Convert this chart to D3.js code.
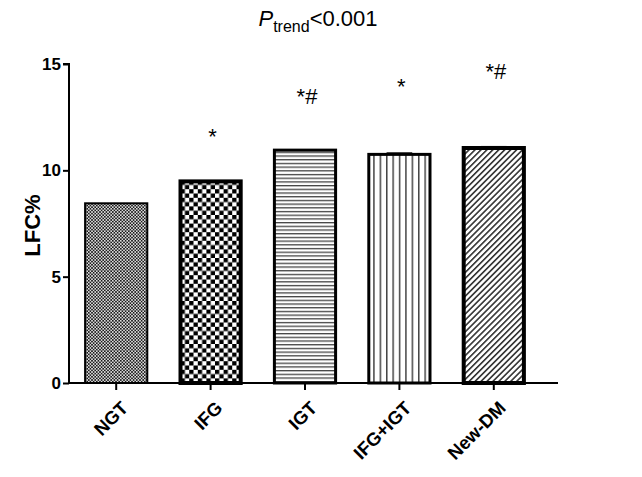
<!DOCTYPE html>
<html>
<head>
<meta charset="utf-8">
<script src="https://cdn.jsdelivr.net/npm/d3@7"></script>
<style>
  body { margin: 0; background: #fff; }
  svg { display: block; font-family: "Liberation Sans", Arial, sans-serif; }
</style>
</head>
<body>
<svg id="chart" width="642" height="477"></svg>
<script>
// data
var groups = ["NGT", "IFG", "IGT", "IFG+IGT", "New-DM"];
var lfc = [8.45, 9.48, 10.95, 10.75, 11.05];
var sem = [0.0, 0.0, 0.0, 0.05, 0.05];
var marks = ["", "*", "*#", "*", "*#"];
var markLevel = [0, 11.25, 13.1, 13.6, 14.3];
var yTicks = [0, 5, 10, 15];
var patterns = ["dots", "checker", "hlines", "vlines", "diag"];
var borderW = [2, 4, 3, 3, 4];

var svg = d3.select("#chart");
var X0 = 69, BAND = 94.4, Y0 = 383, YTOP = 64;

var x = d3.scaleBand()
    .domain(groups)
    .range([X0, X0 + BAND * groups.length])
    .paddingInner(0.32)
    .paddingOuter(0.16);

var y = d3.scaleLinear()
    .domain([0, 15])
    .range([Y0, YTOP]);

// fill patterns
var defs = svg.append("defs");

var p = defs.append("pattern").attr("id", "dots")
    .attr("patternUnits", "userSpaceOnUse").attr("width", 3.2).attr("height", 3.2);
p.append("rect").attr("width", 3.2).attr("height", 3.2).attr("fill", "#ddd");
p.append("rect").attr("width", 1.6).attr("height", 1.6).attr("fill", "#1a1a1a");
p.append("rect").attr("x", 1.6).attr("y", 1.6).attr("width", 1.6).attr("height", 1.6).attr("fill", "#1a1a1a");

p = defs.append("pattern").attr("id", "checker")
    .attr("patternUnits", "userSpaceOnUse").attr("width", 8.6).attr("height", 8.6);
p.append("rect").attr("width", 8.6).attr("height", 8.6).attr("fill", "#fff");
p.append("rect").attr("width", 4.3).attr("height", 4.3).attr("fill", "#000");
p.append("rect").attr("x", 4.3).attr("y", 4.3).attr("width", 4.3).attr("height", 4.3).attr("fill", "#000");

p = defs.append("pattern").attr("id", "hlines")
    .attr("patternUnits", "userSpaceOnUse").attr("width", 10).attr("height", 3.7);
p.append("rect").attr("width", 10).attr("height", 3.7).attr("fill", "#fff");
p.append("rect").attr("width", 10).attr("height", 1.3).attr("fill", "#444");

p = defs.append("pattern").attr("id", "vlines")
    .attr("patternUnits", "userSpaceOnUse").attr("width", 6.4).attr("height", 10)
    .attr("x", 2);
p.append("rect").attr("width", 6.4).attr("height", 10).attr("fill", "#fff");
p.append("rect").attr("width", 1.5).attr("height", 10).attr("fill", "#444");

p = defs.append("pattern").attr("id", "diag")
    .attr("patternUnits", "userSpaceOnUse").attr("width", 4.2).attr("height", 4.2)
    .attr("patternTransform", "rotate(45)");
p.append("rect").attr("width", 4.2).attr("height", 4.2).attr("fill", "#fff");
p.append("rect").attr("width", 1.6).attr("height", 4.2).attr("fill", "#333");

// bars
svg.append("g").selectAll("rect")
    .data(groups)
    .enter()
    .append("rect")
    .attr("x", function(d, i) { return x(d) + borderW[i] / 2; })
    .attr("y", function(d, i) { return y(lfc[i]); })
    .attr("width", function(d, i) { return x.bandwidth() - borderW[i]; })
    .attr("height", function(d, i) { return y(0) - y(lfc[i]); })
    .attr("fill", function(d, i) { return "url(#" + patterns[i] + ")"; })
    .attr("stroke", "#000")
    .attr("stroke-width", function(d, i) { return borderW[i]; });

// tiny error caps
svg.append("g").selectAll("line")
    .data(groups)
    .enter()
    .append("line")
    .attr("x1", function(d) { return x(d) + x.bandwidth() * 0.3; })
    .attr("x2", function(d) { return x(d) + x.bandwidth() * 0.7; })
    .attr("y1", function(d, i) { return y(lfc[i] + sem[i]); })
    .attr("y2", function(d, i) { return y(lfc[i] + sem[i]); })
    .attr("stroke", "#000")
    .attr("stroke-width", function(d, i) { return sem[i] > 0 ? 2 : 0; });

// y axis
var yAxis = d3.axisLeft(y).tickValues(yTicks).tickSize(6).tickPadding(2);
var gy = svg.append("g")
    .attr("transform", "translate(" + X0 + ",0)")
    .call(yAxis);
gy.select(".domain").attr("stroke-width", 2).attr("d", "M-6," + YTOP + "H0V" + Y0);
gy.selectAll(".tick line").attr("stroke-width", 2);
gy.selectAll("text")
    .style("font-size", "17px")
    .style("font-weight", "bold")
    .style("font-family", "'Liberation Sans', Arial, sans-serif");

// x axis
var xAxis = d3.axisBottom(x).tickSize(7).tickFormat("");
var gx = svg.append("g")
    .attr("transform", "translate(0," + Y0 + ")")
    .call(xAxis);
gx.select(".domain").attr("stroke-width", 2).attr("d", "M" + X0 + ",0H558");
gx.selectAll(".tick line").attr("stroke-width", 2);

// x labels, rotated
svg.append("g").selectAll("text")
    .data(groups)
    .enter()
    .append("text")
    .attr("transform", function(d) {
        return "translate(" + (x(d) + x.bandwidth() / 2 + 4) + "," + (Y0 + 17) + ") rotate(-45)";
    })
    .attr("text-anchor", "end")
    .attr("dy", "0.7em")
    .style("font-size", "18.5px")
    .style("font-weight", "bold")
    .text(function(d) { return d; });

// significance marks
svg.append("g").selectAll("text")
    .data(groups)
    .enter()
    .append("text")
    .attr("x", function(d) { return x(d) + x.bandwidth() / 2 + 2; })
    .attr("y", function(d, i) { return y(markLevel[i]); })
    .attr("text-anchor", "middle")
    .style("font-size", "22px")
    .text(function(d, i) { return marks[i]; });

// y title
svg.append("text")
    .attr("transform", "translate(40," + ((Y0 + YTOP) / 2 + 2) + ") rotate(-90)")
    .attr("text-anchor", "middle")
    .style("font-size", "22px")
    .style("font-weight", "bold")
    .text("LFC%");

// title
var title = svg.append("text")
    .attr("x", 318)
    .attr("y", 26)
    .attr("text-anchor", "middle")
    .style("font-size", "22px");
title.append("tspan").style("font-style", "italic").text("P");
title.append("tspan").attr("dy", 6).style("font-size", "16px").text("trend");
title.append("tspan").attr("dy", -6).text("<0.001");
</script>
</body>
</html>
